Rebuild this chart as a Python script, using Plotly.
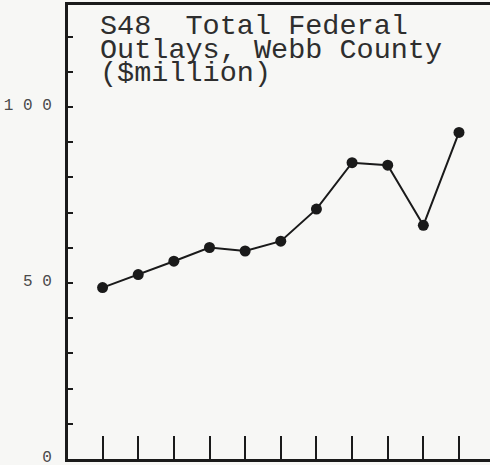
import plotly.graph_objects as go

# Data
periods = list(range(11))
outlays = [48.7, 52.4, 56.2, 60.1, 59.1, 61.9, 71.0, 84.2, 83.5, 66.4, 92.8]
y_tick_values = list(range(0, 130, 10))
y_tick_labels = ["0" if v == 0 else ("5 0" if v == 50 else ("1 0 0" if v == 100 else "")) for v in y_tick_values]
title_lines = ["S48  Total Federal", "Outlays, Webb County", "($million)"]
title_y = [122.8, 116.1, 109.4]

ink = "#1a1a1a"
paper = "#f7f7f5"

fig = go.Figure()
fig.add_trace(go.Scatter(
    x=periods, y=outlays, mode="lines+markers",
    line=dict(color=ink, width=2),
    marker=dict(color=ink, size=11),
    showlegend=False, hoverinfo="skip",
))

for txt, yy in zip(title_lines, title_y):
    fig.add_annotation(
        x=-0.1, y=yy, xref="x", yref="y", text=txt, showarrow=False,
        xanchor="left", yanchor="middle", borderpad=0,
        font=dict(family="Liberation Mono", size=28.5, color="#2e2e2e"),
    )

fig.update_xaxes(
    range=[-0.97, 10.87], showgrid=False, zeroline=False,
    showline=True, linecolor=ink, linewidth=3, mirror=True,
    tickmode="array", tickvals=periods, ticktext=[""] * len(periods),
    ticks="inside", ticklen=23, tickwidth=2, tickcolor=ink,
    showticklabels=False, automargin=False,
)
fig.update_yaxes(
    range=[0, 129], showgrid=False, zeroline=False,
    showline=True, linecolor=ink, linewidth=3, mirror=False,
    tickmode="array", tickvals=y_tick_values, ticktext=y_tick_labels,
    ticks="inside", ticklen=5, tickwidth=2, tickcolor=ink,
    ticklabelstandoff=10, ticklabeloverflow="allow", ticklabelshift=-3,
    automargin=False,
    tickfont=dict(family="Liberation Mono", size=16, color="#4a4a4a"),
)
fig.update_layout(
    width=490, height=465,
    margin=dict(l=68, r=0, t=5, b=6),
    paper_bgcolor=paper, plot_bgcolor=paper,
)
fig.write_html(
    "out.html",
    config={"displayModeBar": False},
    post_script="document.body.style.margin='0';document.body.style.overflow='hidden';",
)
